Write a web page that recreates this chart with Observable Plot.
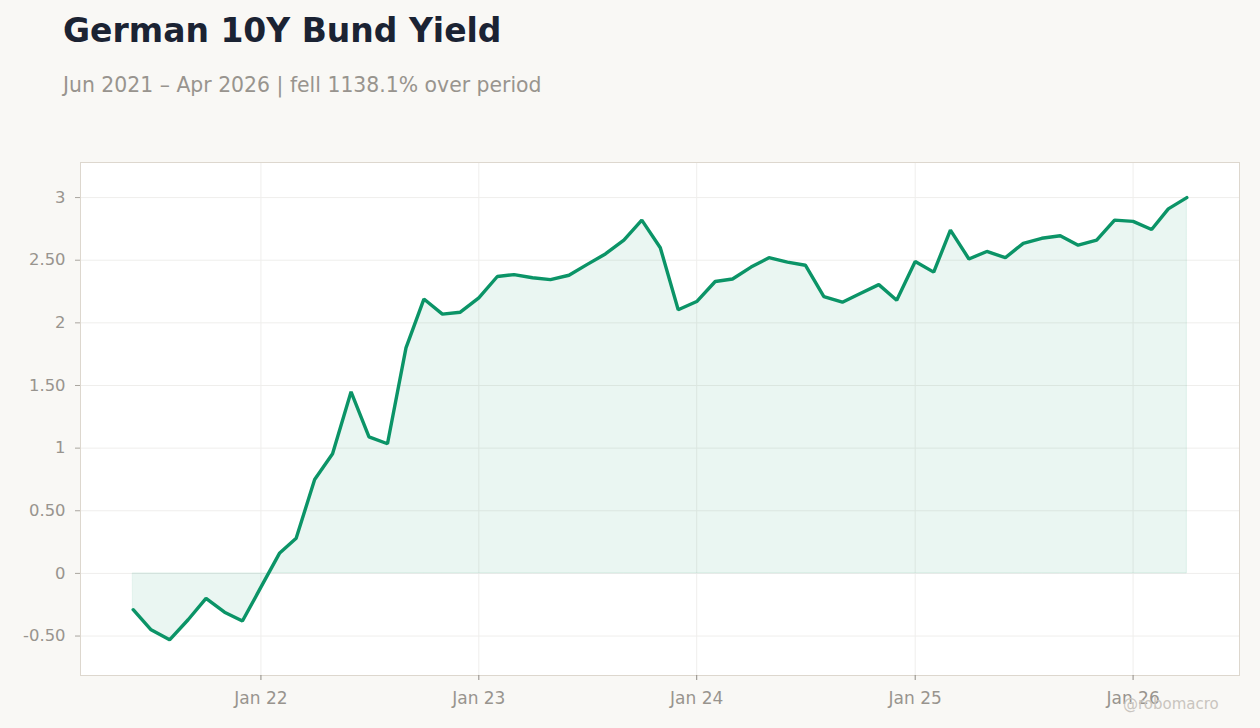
<!DOCTYPE html>
<html>
<head>
<meta charset="utf-8">
<script src="https://cdn.jsdelivr.net/npm/d3@7"></script>
<script src="https://cdn.jsdelivr.net/npm/@observablehq/plot@0.6"></script>
<style>
  html, body { margin: 0; padding: 0; background: #f9f8f5; width: 1260px; height: 728px; overflow: hidden; font-family: "DejaVu Sans", sans-serif; }
  #title { position: absolute; left: 63px; top: 14px; font-size: 33px; line-height: 33px; font-weight: bold; color: #1b2333; white-space: nowrap; }
  #subtitle { position: absolute; left: 63px; top: 75px; font-size: 20.4px; line-height: 20px; color: #98948e; white-space: nowrap; }
  #chart { position: absolute; left: 0; top: 140px; }
  #credit { position: absolute; left: 1123px; top: 697px; font-size: 15px; line-height: 15px; color: #c9c5bf; white-space: nowrap; }
</style>
</head>
<body>
<div id="title">German 10Y Bund Yield</div>
<div id="subtitle">Jun 2021 – Apr 2026 | fell 1138.1% over period</div>
<div id="chart"></div>
<div id="credit">@robomacro</div>
<script>
// Monthly observations, Jun 2021 – Apr 2026
const months = [
  "2021-06","2021-07","2021-08","2021-09","2021-10","2021-11","2021-12",
  "2022-01","2022-02","2022-03","2022-04","2022-05","2022-06","2022-07","2022-08","2022-09","2022-10","2022-11","2022-12",
  "2023-01","2023-02","2023-03","2023-04","2023-05","2023-06","2023-07","2023-08","2023-09","2023-10","2023-11","2023-12",
  "2024-01","2024-02","2024-03","2024-04","2024-05","2024-06","2024-07","2024-08","2024-09","2024-10","2024-11","2024-12",
  "2025-01","2025-02","2025-03","2025-04","2025-05","2025-06","2025-07","2025-08","2025-09","2025-10","2025-11","2025-12",
  "2026-01","2026-02","2026-03","2026-04"
];
const yields = [
  -0.29, -0.45, -0.53, -0.37, -0.20, -0.31, -0.38,
  -0.11, 0.16, 0.28, 0.75, 0.955, 1.45, 1.09, 1.035, 1.80, 2.19, 2.07, 2.085,
  2.20, 2.37, 2.385, 2.36, 2.345, 2.38, 2.465, 2.55, 2.66, 2.82, 2.60, 2.105,
  2.17, 2.33, 2.35, 2.445, 2.52, 2.485, 2.46, 2.21, 2.165, 2.235, 2.305, 2.18,
  2.49, 2.405, 2.74, 2.51, 2.57, 2.52, 2.635, 2.675, 2.695, 2.62, 2.66, 2.82,
  2.81, 2.745, 2.91, 3.00
];
const yTicks = [-0.5, 0, 0.5, 1, 1.5, 2, 2.5, 3];
const xTickYears = [2022, 2023, 2024, 2025, 2026];

const data = months.map((m, i) => ({ date: new Date(m + "-01T00:00:00Z"), value: yields[i] }));
const xTicks = xTickYears.map(y => new Date(Date.UTC(y, 0, 1)));

const start = data[0].date, end = data[data.length - 1].date;
const pad = (end - start) * 0.05;
const xDomain = [new Date(+start - pad), new Date(+end + pad)];

const green = "#0b9467";
const fmtY = d => Number.isInteger(d) ? String(d) : d.toFixed(2);
const fmtX = d3.utcFormat("%b %y");

const chart = Plot.plot({
  width: 1260,
  height: 588,
  marginTop: 22,
  marginBottom: 53,
  marginLeft: 80,
  marginRight: 21,
  style: { fontFamily: "DejaVu Sans, sans-serif", fontSize: "16px", color: "#98948e", background: "transparent", overflow: "visible" },
  x: { type: "utc", domain: xDomain, label: null },
  y: { domain: [-0.815, 3.28], label: null },
  marks: [
    Plot.frame({ fill: "white", stroke: "none" }),
    Plot.gridY(yTicks, { stroke: "#efeeec", strokeOpacity: 1 }),
    Plot.gridX(xTicks, { stroke: "#efeeec", strokeOpacity: 1 }),
    Plot.areaY(data, { x: "date", y: "value", fill: green, fillOpacity: 0.085, stroke: green, strokeOpacity: 0.1, strokeWidth: 1 }),
    Plot.lineY(data, { x: "date", y: "value", stroke: green, strokeWidth: 3.4, strokeLinejoin: "miter" }),
    Plot.frame({ stroke: "#ddd7ce", strokeWidth: 1 }),
    Plot.axisY(yTicks, { tickFormat: fmtY, tickSize: 5, tickPadding: 10, stroke: "#aaa69f", color: "#98948e", fontSize: 16.4, label: null }),
    Plot.axisX(xTicks, { tickFormat: fmtX, tickSize: 5, tickPadding: 11, stroke: "#8f8b85", color: "#98948e", fontSize: 17, label: null })
  ]
});
document.getElementById("chart").appendChild(chart);
</script>
</body>
</html>
